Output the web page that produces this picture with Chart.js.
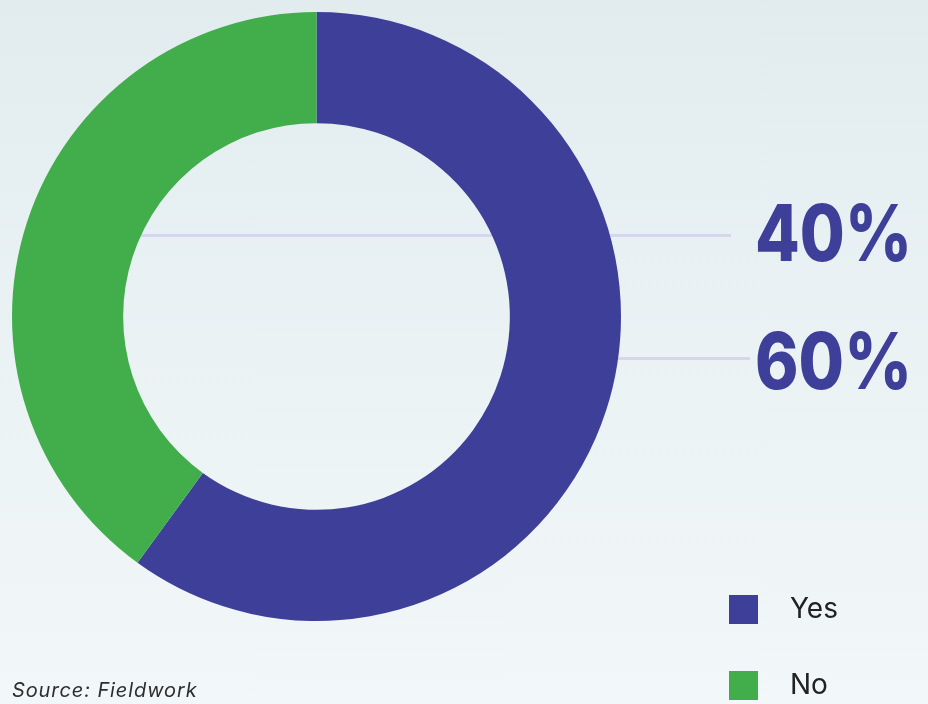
<!DOCTYPE html>
<html>
<head>
<meta charset="utf-8">
<script src="https://cdn.jsdelivr.net/npm/chart.js@4"></script>
<style>
    html, body { margin: 0; padding: 0; }
    body {
        width: 928px;
        height: 704px;
        overflow: hidden;
        background: linear-gradient(180deg, #e2ecef 0%, #eaf2f4 50%, #f2f7f9 100%);
        font-family: Inter, "Open Sans", sans-serif;
    }
    #wrap { position: relative; width: 928px; height: 704px; }
    #source {
        position: absolute;
        left: 12px;
        top: 678px;
        font-size: 20px;
        font-style: italic;
        letter-spacing: 0.9px;
        color: #2e2e2e;
    }
</style>
</head>
<body>
<div id="wrap">
    <canvas id="pieChart" width="928" height="704"></canvas>
    <div id="source">Source: Fieldwork</div>
</div>
<script>
// Chart data
const categories = ['Yes', 'No'];
const shares = [60, 40];
const sliceColors = ['#3e3f98', '#41ae4b'];
// Value labels on the right, top to bottom
const valueLabels = ['40%', '60%'];

// Leader lines and value labels plus legend squares
const annotationPlugin = {
    id: 'annotations',
    beforeDatasetsDraw: function (chart) {
        const ctx = chart.ctx;
        ctx.save();
        ctx.strokeStyle = '#d8d6ea';
        ctx.lineWidth = 3;
        ctx.beginPath();
        ctx.moveTo(140, 235.5);
        ctx.lineTo(731, 235.5);
        ctx.moveTo(600, 358.5);
        ctx.lineTo(750, 358.5);
        ctx.stroke();
        ctx.restore();
    },
    afterDraw: function (chart) {
        const ctx = chart.ctx;
        ctx.save();

        // Big percentage labels
        ctx.fillStyle = '#3e3f98';
        ctx.font = '800 78px Inter, sans-serif';
        ctx.textAlign = 'left';
        ctx.textBaseline = 'alphabetic';
        ctx.fillText(valueLabels[0], 755, 261, 157);
        ctx.fillText(valueLabels[1], 755, 389, 157);

        // Legend
        const legendY = [595, 671];
        ctx.font = '28px Inter, sans-serif';
        ctx.textBaseline = 'middle';
        categories.forEach((name, i) => {
            ctx.fillStyle = sliceColors[i];
            ctx.fillRect(729, legendY[i], 29, 29);
            ctx.fillStyle = '#222222';
            ctx.fillText(name, 790, legendY[i] + 15);
        });
        ctx.restore();
    }
};

const ctx = document.getElementById('pieChart').getContext('2d');
const pieChart = new Chart(ctx, {
    type: 'doughnut',
    data: {
        labels: categories,
        datasets: [
            {
                data: shares,
                backgroundColor: sliceColors,
                borderWidth: 0
            }
        ]
    },
    options: {
        responsive: false,
        animation: false,
        cutout: '63.5%',
        layout: {
            padding: { left: 12, top: 11, right: 307, bottom: 82 }
        },
        plugins: {
            legend: { display: false },
            tooltip: { enabled: false }
        }
    },
    plugins: [annotationPlugin]
});
</script>
</body>
</html>
